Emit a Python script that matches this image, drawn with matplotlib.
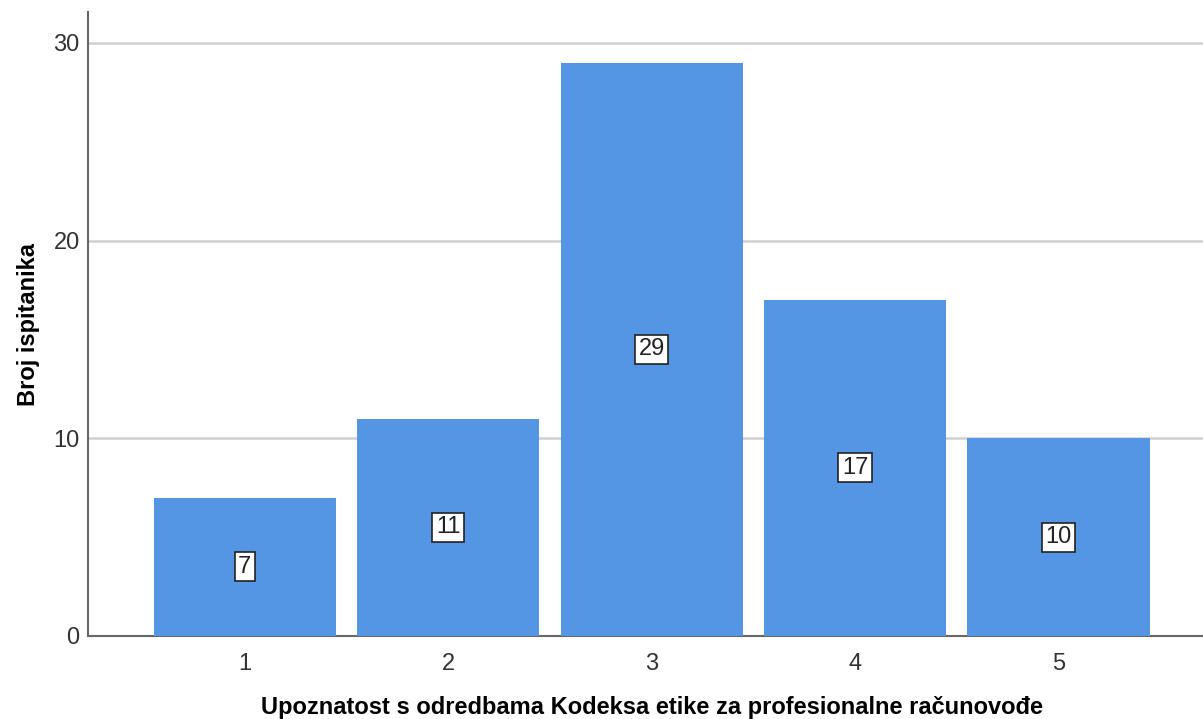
import matplotlib.pyplot as plt

plt.rcParams['font.family'] = ['Liberation Sans', 'DejaVu Sans']

categories = [1, 2, 3, 4, 5]
counts = [7, 11, 29, 17, 10]

fig = plt.figure(figsize=(12.03, 7.19), dpi=100)
ax = fig.add_axes([88 / 1203, 1 - 636 / 719, 1 - 88 / 1203, (636 - 12) / 719])

ax.bar(categories, counts, width=0.895, color='#5596E4', zorder=3)
for x, v in zip(categories, counts):
    ax.text(x, v / 2, str(v), ha='center', va='center', fontsize=17, color='#222222', zorder=4,
            bbox=dict(boxstyle='square,pad=0.15', facecolor='white', edgecolor='#222222', linewidth=1.2))

ax.set_xlim(0.23, 5.71)
ax.set_ylim(0, 31.56)
ax.set_yticks([0, 10, 20, 30])
ax.set_xticks(categories)
ax.yaxis.grid(True, color='#d0d0d0', linewidth=1.8, zorder=0)
ax.tick_params(length=0, labelsize=17, colors='#333333', pad=6)
ax.tick_params(axis='x', pad=12)

for side in ['top', 'right']:
    ax.spines[side].set_visible(False)
for side in ['left', 'bottom']:
    ax.spines[side].set_color('#666666')
    ax.spines[side].set_linewidth(1.5)

ax.set_xlabel('Upoznatost s odredbama Kodeksa etike za profesionalne računovođe',
              fontsize=17, fontweight='bold')
ax.xaxis.set_label_coords(0.506, -0.096)
ax.set_ylabel('Broj ispitanika', fontsize=17, fontweight='bold', labelpad=10)

fig.savefig('out.png', dpi=100)
